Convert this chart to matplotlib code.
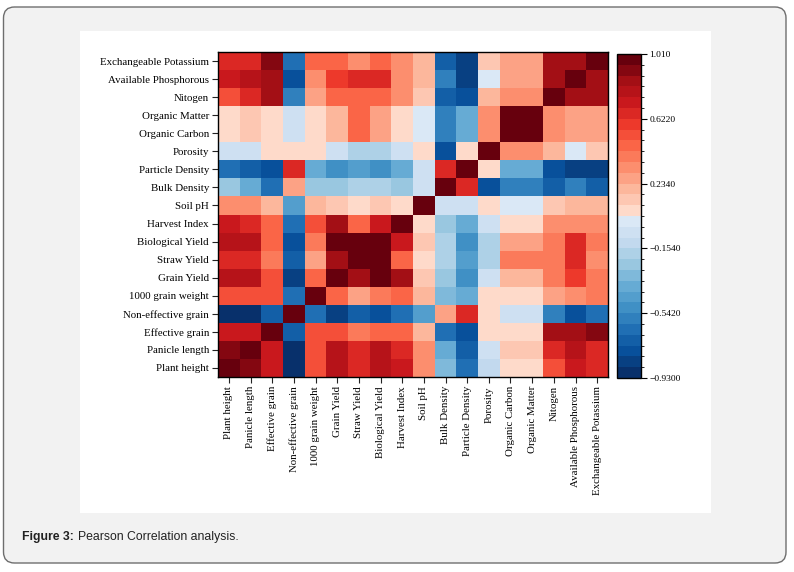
import numpy as np
import matplotlib
matplotlib.use("Agg")
import matplotlib.pyplot as plt
from matplotlib.colors import ListedColormap, BoundaryNorm
from matplotlib.patches import FancyBboxPatch, Rectangle

# variables, same order on both axes (first one sits at the bottom / left)
labels = ["Plant height", "Panicle length", "Effective grain", "Non-effective grain",
          "1000 grain weight", "Grain Yield", "Straw Yield", "Biological Yield",
          "Harvest Index", "Soil pH", "Bulk Density", "Particle Density", "Porosity",
          "Organic Carbon", "Organic Matter", "Nitogen", "Available Phosphorous",
          "Exchangeable Potassium"]

# Pearson r, one row per variable
corr = [
    [1.0, 0.91, 0.71, -0.90, 0.53, 0.78, 0.64, 0.78, 0.71, 0.33, -0.32, -0.64, -0.10, 0.09, 0.09, 0.53, 0.71, 0.64],
    [0.91, 1.0, 0.71, -0.88, 0.53, 0.78, 0.64, 0.78, 0.64, 0.33, -0.38, -0.70, -0.07, 0.14, 0.14, 0.64, 0.78, 0.64],
    [0.71, 0.71, 1.0, -0.70, 0.50, 0.53, 0.42, 0.45, 0.45, 0.20, -0.64, -0.77, 0.09, 0.09, 0.09, 0.85, 0.85, 0.91],
    [-0.90, -0.90, -0.70, 1.0, -0.64, -0.83, -0.70, -0.77, -0.64, -0.45, 0.27, 0.64, 0.06, -0.07, -0.07, -0.58, -0.77, -0.64],
    [0.53, 0.53, 0.50, -0.64, 1.0, 0.45, 0.27, 0.42, 0.45, 0.20, -0.32, -0.38, 0.09, 0.09, 0.09, 0.27, 0.33, 0.42],
    [0.78, 0.78, 0.53, -0.83, 0.45, 1.0, 0.85, 1.0, 0.85, 0.14, -0.22, -0.51, -0.07, 0.20, 0.20, 0.42, 0.58, 0.42],
    [0.64, 0.64, 0.42, -0.70, 0.27, 0.85, 1.0, 1.0, 0.45, 0.09, -0.16, -0.45, -0.16, 0.42, 0.42, 0.42, 0.64, 0.33],
    [0.78, 0.78, 0.45, -0.77, 0.42, 1.0, 1.0, 1.0, 0.71, 0.14, -0.16, -0.51, -0.16, 0.27, 0.27, 0.42, 0.64, 0.42],
    [0.71, 0.64, 0.45, -0.64, 0.50, 0.85, 0.45, 0.71, 1.0, 0.06, -0.25, -0.38, -0.05, 0.06, 0.06, 0.33, 0.33, 0.33],
    [0.33, 0.33, 0.20, -0.45, 0.20, 0.14, 0.09, 0.14, 0.06, 1.0, -0.07, -0.03, 0.06, 0.01, 0.01, 0.14, 0.20, 0.20],
    [-0.27, -0.38, -0.64, 0.27, -0.27, -0.22, -0.16, -0.16, -0.22, -0.05, 1.0, 0.64, -0.77, -0.58, -0.58, -0.70, -0.58, -0.70],
    [-0.64, -0.70, -0.77, 0.64, -0.38, -0.51, -0.45, -0.51, -0.38, -0.03, 0.64, 1.0, 0.06, -0.38, -0.38, -0.77, -0.83, -0.83],
    [-0.07, -0.07, 0.09, 0.06, 0.09, -0.07, -0.16, -0.16, -0.03, 0.06, -0.77, 0.06, 1.0, 0.33, 0.33, 0.20, 0.01, 0.14],
    [0.09, 0.14, 0.09, -0.07, 0.09, 0.20, 0.45, 0.27, 0.06, 0.01, -0.58, -0.38, 0.33, 1.0, 1.0, 0.33, 0.27, 0.27],
    [0.09, 0.14, 0.09, -0.07, 0.09, 0.20, 0.45, 0.27, 0.06, 0.01, -0.58, -0.38, 0.33, 1.0, 1.0, 0.33, 0.27, 0.27],
    [0.53, 0.64, 0.85, -0.58, 0.27, 0.45, 0.45, 0.45, 0.33, 0.14, -0.70, -0.77, 0.20, 0.33, 0.33, 1.0, 0.85, 0.85],
    [0.71, 0.78, 0.85, -0.77, 0.33, 0.58, 0.64, 0.64, 0.33, 0.20, -0.58, -0.83, 0.01, 0.27, 0.27, 0.85, 1.0, 0.85],
    [0.64, 0.64, 0.91, -0.64, 0.45, 0.45, 0.33, 0.45, 0.33, 0.20, -0.70, -0.83, 0.14, 0.27, 0.27, 0.85, 0.85, 1.0],
]

cbar_ticks = [1.010, 0.622, 0.234, -0.154, -0.542, -0.930]
cbar_ticklabels = ["1.010", "0.6220", "0.2340", "\u22120.1540", "\u22120.5420", "\u22120.9300"]
vmin, vmax, nbands = -0.93, 1.01, 30

W, H = 794, 572
fig = plt.figure(figsize=(W / 100, H / 100), dpi=100)
fig.patch.set_facecolor("white")

# page background: grey rounded box with a white panel for the chart
bg = fig.add_axes([0, 0, 1, 1])
bg.set_xlim(0, W)
bg.set_ylim(H, 0)
bg.axis("off")
bg.add_patch(FancyBboxPatch((3.5, 7), 782.5, 556,
                            boxstyle="round,pad=0,rounding_size=11",
                            fc="#f2f2f2", ec="#6e6e6e", lw=1.0))
bg.add_patch(Rectangle((80, 31), 631, 482, fc="white", ec="none"))
cap1 = bg.text(22, 537, "Figure 3:", fontsize=8.8, fontweight="bold",
               family="Liberation Sans", va="center", ha="left", color="#222222")
fig.canvas.draw()
x_end = cap1.get_window_extent().x1
bg.text(x_end + 4, 537, "Pearson Correlation analysis.", fontsize=8.8,
        family="Liberation Sans", va="center", ha="left", color="#222222")

# diverging blue -> red palette, cut into discrete bands
base = np.vstack([plt.cm.Blues(np.linspace(1.0, 0.12, 128)),
                  plt.cm.Reds(np.linspace(0.12, 1.0, 128))])
centers = np.linspace(0, 1, nbands)
cmap = ListedColormap([base[int(round(c * 255))] for c in centers])
levels = np.linspace(vmin, vmax, nbands + 1)
norm = BoundaryNorm(levels, cmap.N)

def fx(px):
    return px / W

def fy(py):
    return 1 - py / H

ax = fig.add_axes([fx(218), fy(377), fx(608) - fx(218), fy(52) - fy(377)])
mesh = ax.pcolormesh(np.array(corr), cmap=cmap, norm=norm)
n = len(labels)
ax.set_xlim(0, n)
ax.set_ylim(0, n)
ax.set_xticks(np.arange(n) + 0.5)
ax.set_yticks(np.arange(n) + 0.5)
ax.set_xticklabels(labels, rotation=90, family="Liberation Serif", fontsize=7.8)
ax.set_yticklabels(labels, family="Liberation Serif", fontsize=7.8)
ax.tick_params(direction="out", length=4, width=0.8, pad=2.5, color="#222222")
for s in ax.spines.values():
    s.set_linewidth(1.0)

cax = fig.add_axes([fx(617), fy(378), fx(641) - fx(617), fy(54) - fy(378)])
cb = fig.colorbar(mesh, cax=cax, ticks=cbar_ticks)
cb.ax.set_yticklabels(cbar_ticklabels, family="Liberation Serif", fontsize=6.8)
cb.ax.tick_params(direction="out", length=4, width=0.8, pad=2)
cb.outline.set_linewidth(1.0)

fig.savefig("out.png", dpi=100)
